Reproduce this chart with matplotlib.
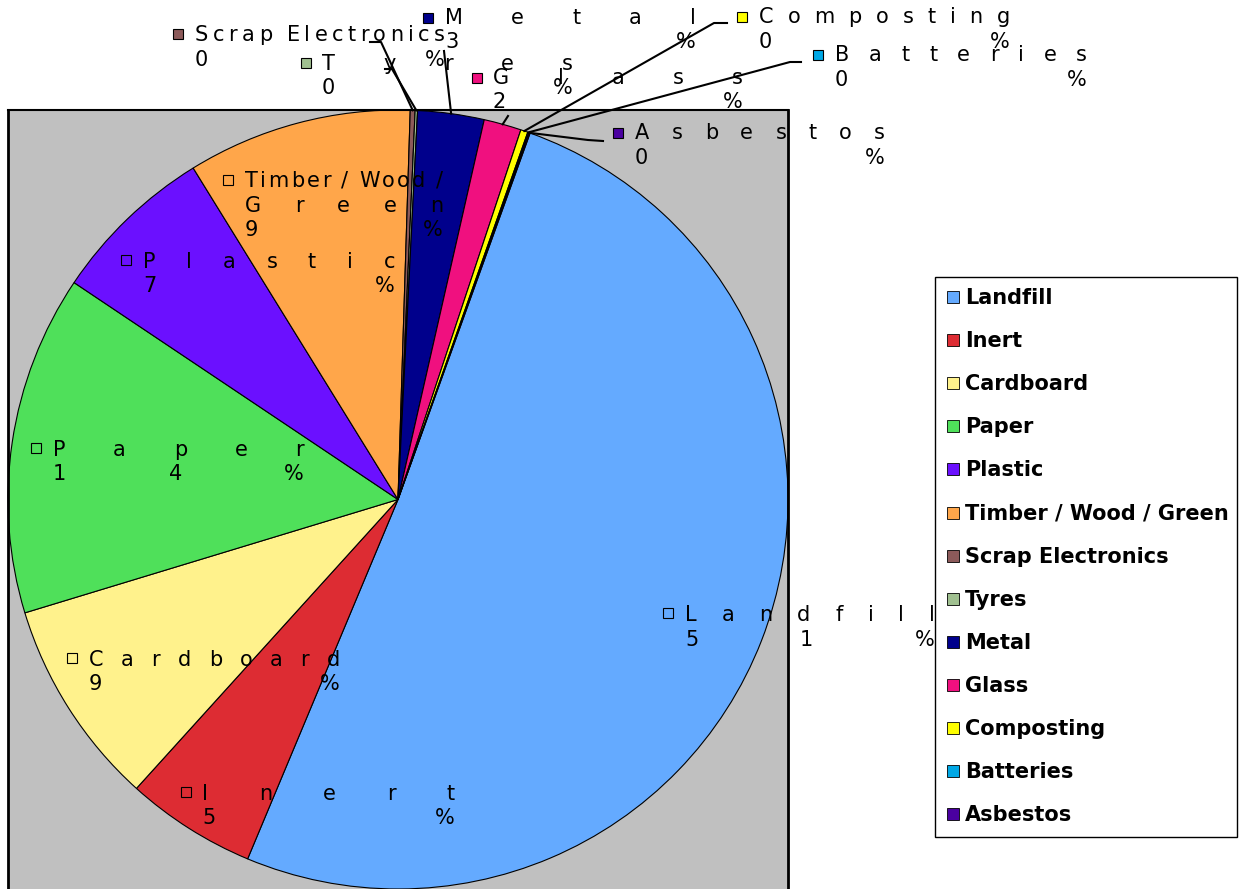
import numpy as np
import matplotlib.pyplot as plt
from matplotlib.patches import Rectangle

plt.rcParams['font.family'] = ['DejaVu Sans']

names = ['Landfill', 'Inert', 'Cardboard', 'Paper', 'Plastic', 'Timber / Wood / Green',
         'Scrap Electronics', 'Tyres', 'Metal', 'Glass', 'Composting', 'Batteries', 'Asbestos']
shares = [50.8, 5.4, 8.6, 14.1, 6.8, 9.3, 0.2, 0.1, 2.75, 1.55, 0.3, 0.05, 0.05]
colours = ['#64AAFF', '#DD2C33', '#FFF28C', '#4FE05A', '#6B10FF', '#FFA64A',
           '#8C5A5A', '#A0C090', '#00008C', '#F0107F', '#FFFF00', '#00A8E6', '#4A00A0']

# label boxes in pixels: left, right, first baseline, marker centre (x, y)
boxes = {
    'Landfill':              (685, 935, 621, 668, 613),
    'Inert':                 (202, 455, 800, 186, 792),
    'Cardboard':             (89, 340, 666, 72, 658),
    'Paper':                 (53, 304, 456, 36, 448),
    'Plastic':               (143, 395, 268, 126, 260),
    'Timber / Wood / Green': (245, 443, 187, 228, 180),
    'Scrap Electronics':     (195, 445, 41, 178, 34),
    'Tyres':                 (322, 573, 70, 306, 63),
    'Metal':                 (445, 696, 24, 428, 18),
    'Glass':                 (493, 743, 84, 477, 78),
    'Composting':            (759, 1010, 23, 742, 17),
    'Batteries':             (835, 1087, 61, 818, 55),
    'Asbestos':              (635, 885, 139, 618, 133),
}
# leader line bends for the thin slices
leaders = {
    'Scrap Electronics': [(381, 42), (370, 42)],
    'Tyres':             [(392, 69), (385, 69)],
    'Metal':             [(444, 51)],
    'Glass':             [(508, 116)],
    'Composting':        [(714, 23), (727, 23)],
    'Batteries':         [(790, 62), (801, 62)],
    'Asbestos':          [(588, 140), (603, 141)],
}
wrapped = {'Timber / Wood / Green': ['Timber / Wood /', 'Green']}

W, H = 1245, 889
fig = plt.figure(figsize=(W / 100, H / 100), dpi=100)

ax = fig.add_axes([8 / W, 0, 780 / W, 779 / H])
wedges, _ = ax.pie(shares, colors=colours, startangle=70.2, counterclock=False,
                   wedgeprops=dict(edgecolor='black', linewidth=0.8))
ax.set_frame_on(True)
ax.set_facecolor('#C0C0C0')
ax.set_aspect('auto')
ax.set_xlim(-1, 1)
ax.set_ylim(-1, 1)
for side, lw in [('left', 2), ('right', 2), ('top', 1.5), ('bottom', 0)]:
    ax.spines[side].set_linewidth(lw)
    ax.spines[side].set_color('black')

ov = fig.add_axes([0, 0, 1, 1])
ov.set_xlim(0, W)
ov.set_ylim(H, 0)
ov.axis('off')

renderer = fig.canvas.get_renderer()


def spread(line, x0, x1, y, **kw):
    # distribute characters so the gaps between them are equal
    arts = [ov.text(0, y, ch, ha='left', va='baseline', **kw) for ch in line]
    widths = []
    for ch, a in zip(line, arts):
        w = a.get_window_extent(renderer).width
        if ch == ' ':
            w = 6
        widths.append(w)
    gap = (x1 - x0 - sum(widths)) / max(len(line) - 1, 1)
    x = x0
    for a, w in zip(arts, widths):
        a.set_x(x)
        x += w + gap


total = sum(shares)
inside = names[:6]
for name, val, col, w in zip(names, shares, colours, wedges):
    x0, x1, y0, mx, my = boxes[name]
    pct = int(np.floor(val / total * 100 + 0.5))
    lines = wrapped.get(name, [name]) + [f'{pct}%']
    for k, line in enumerate(lines):
        spread(line, x0, x1, y0 + k * 24.5, fontsize=15, color='black')
    face = 'none' if name in inside else col
    ov.add_patch(Rectangle((mx - 5, my - 5), 10, 10, facecolor=face,
                           edgecolor='black', linewidth=0.8))
    if name in leaders:
        t = np.deg2rad((w.theta1 + w.theta2) / 2)
        px, py = ov.transData.inverted().transform(
            ax.transData.transform((np.cos(t), np.sin(t))))
        pts = [(px, py)] + leaders[name]
        ov.plot([p[0] for p in pts], [p[1] for p in pts], color='black', lw=1.5)

# legend
ov.add_patch(Rectangle((935, 277), 302, 560, facecolor='white',
                       edgecolor='black', linewidth=1))
for i, (name, col) in enumerate(zip(names, colours)):
    yc = 297 + i * 43.1
    ov.add_patch(Rectangle((947, yc - 6), 12, 12, facecolor=col,
                           edgecolor='black', linewidth=0.6))
    ov.text(965, yc + 7, name, fontsize=15, fontweight='bold',
            ha='left', va='baseline', color='black')

fig.savefig('out.png', dpi=100)
